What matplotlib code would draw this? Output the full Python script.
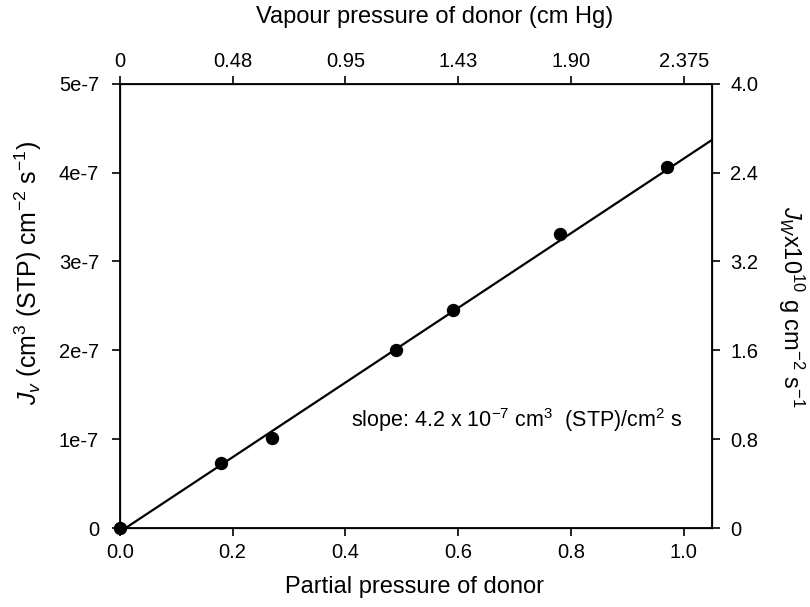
import matplotlib
matplotlib.use('Agg')
import matplotlib.pyplot as plt

plt.rcParams['font.family'] = ['Liberation Sans', 'DejaVu Sans']
plt.rcParams['mathtext.fontset'] = 'custom'
plt.rcParams['mathtext.rm'] = 'Liberation Sans'
plt.rcParams['mathtext.it'] = 'Liberation Sans:italic'

# measured points
partial_p = [0.0, 0.18, 0.27, 0.49, 0.59, 0.78, 0.97]
jv = [0.0, 0.735e-7, 1.01e-7, 2.0e-7, 2.455e-7, 3.31e-7, 4.06e-7]

# fitted line: jv = slope * (p - p0)
fit_p0 = 0.01
fit_slope = 4.2e-7
fit_x = [fit_p0, 1.05]

bottom_ticks = [0.0, 0.2, 0.4, 0.6, 0.8, 1.0]
bottom_labels = ['0.0', '0.2', '0.4', '0.6', '0.8', '1.0']
top_labels = ['0', '0.48', '0.95', '1.43', '1.90', '2.375']
left_ticks = [0, 1e-7, 2e-7, 3e-7, 4e-7, 5e-7]
left_labels = ['0', '1e-7', '2e-7', '3e-7', '4e-7', '5e-7']
right_labels = ['0', '0.8', '1.6', '3.2', '2.4', '4.0']

fig = plt.figure(figsize=(8.1, 6.07), dpi=100)
ax = fig.add_axes([0.148, 0.130, 0.731, 0.732])

ax.plot(fit_x, [fit_slope * (x - fit_p0) for x in fit_x], color='black', lw=1.6, zorder=2)
ax.plot(partial_p, jv, 'o', color='black', ms=8.6, zorder=3, clip_on=False)

ax.set_xlim(0, 1.05)
ax.set_ylim(0, 5e-7)
ax.set_xticks(bottom_ticks)
ax.set_xticklabels(bottom_labels)
ax.set_yticks(left_ticks)
ax.set_yticklabels(left_labels)
ax.tick_params(axis='x', direction='out', length=6, width=1.2, labelsize=14.5, pad=5)
ax.tick_params(axis='y', direction='out', length=6, width=1.2, labelsize=14.5, pad=9)
for s in ax.spines.values():
    s.set_linewidth(1.3)

ax.set_xlabel('Partial pressure of donor', fontsize=17, va='center')
ax.xaxis.set_label_coords(0.497, -0.132)
ax.set_ylabel(r'$J_v$ (cm$^3$ (STP) cm$^{-2}$ s$^{-1}$)', fontsize=18, va='center')
ax.yaxis.set_label_coords(-0.154, 0.574)

ax_top = ax.twiny()
ax_top.set_xlim(ax.get_xlim())
ax_top.set_xticks(bottom_ticks)
ax_top.set_xticklabels(top_labels)
ax_top.tick_params(direction='out', length=6, width=1.2, labelsize=14.5, pad=3)
ax_top.set_xlabel('Vapour pressure of donor (cm Hg)', fontsize=17, va='center')
ax_top.xaxis.set_label_coords(0.532, 1.151)

ax_r = ax.twinx()
ax_r.set_ylim(ax.get_ylim())
ax_r.set_yticks(left_ticks)
ax_r.set_yticklabels(right_labels)
ax_r.tick_params(direction='out', length=6, width=1.2, labelsize=14.5, pad=7)
ax_r.set_ylabel(r'$J_W$x10$^{10}$ g cm$^{-2}$ s$^{-1}$', fontsize=17, rotation=270, va='center')
ax_r.yaxis.set_label_coords(1.133, 0.497)

ax.text(0.41, 1.22e-7, r'slope: 4.2 x 10$^{-7}$ cm$^3$  (STP)/cm$^2$ s',
        fontsize=15.5, va='center', ha='left')

fig.savefig('out.png', dpi=100)
